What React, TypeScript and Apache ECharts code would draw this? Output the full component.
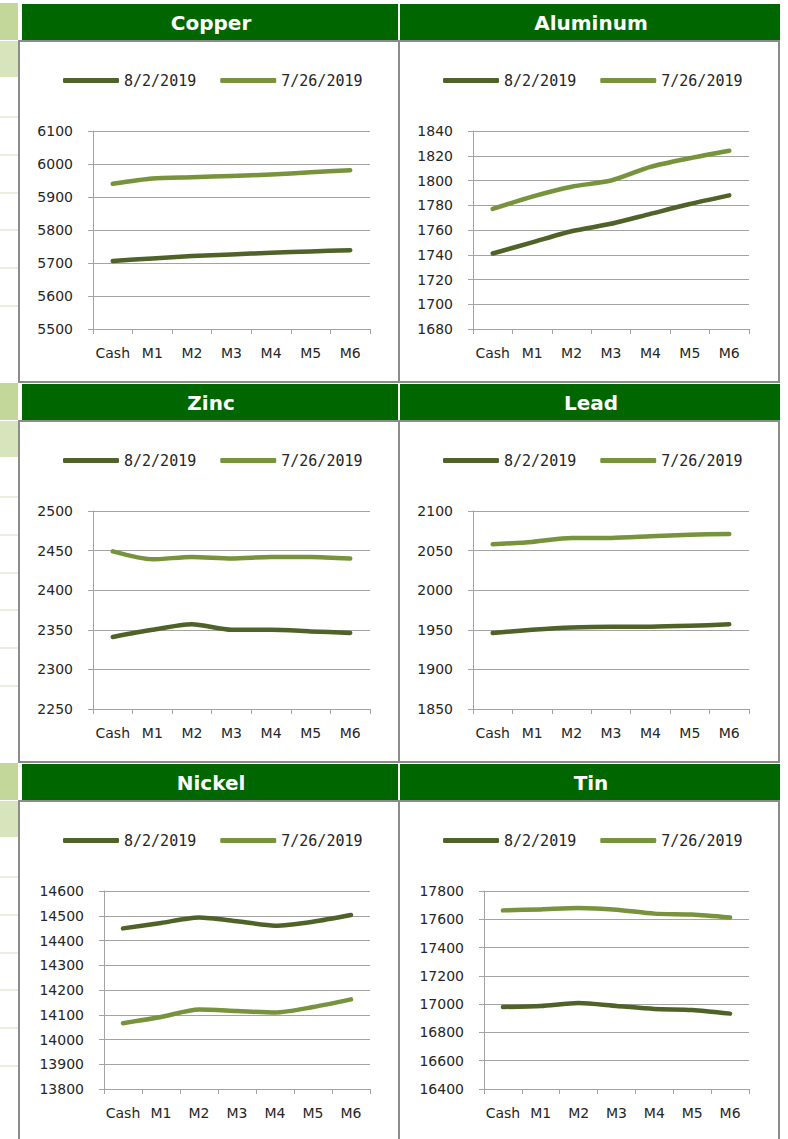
import React, { useEffect, useRef } from "react";
import * as echarts from "echarts";

const categories = ["Cash", "M1", "M2", "M3", "M4", "M5", "M6"];
const seriesNames = ["8/2/2019", "7/26/2019"];
const metals = ["Copper", "Aluminum", "Zinc", "Lead", "Nickel", "Tin"];

const copperAug2 = [5706, 5714, 5721, 5726, 5731, 5735, 5739];
const copperJul26 = [5940, 5956, 5960, 5964, 5968, 5975, 5981];
const aluminumAug2 = [1741, 1750, 1759, 1765, 1773, 1781, 1788];
const aluminumJul26 = [1777, 1787, 1795, 1800, 1811, 1818, 1824];
const zincAug2 = [2341, 2350, 2357, 2350, 2350, 2348, 2346];
const zincJul26 = [2449, 2439, 2442, 2440, 2442, 2442, 2440];
const leadAug2 = [1946, 1950, 1953, 1954, 1954, 1955, 1957];
const leadJul26 = [2058, 2061, 2066, 2066, 2068, 2070, 2071];
const nickelAug2 = [14449, 14471, 14493, 14478, 14460, 14476, 14503];
const nickelJul26 = [14066, 14091, 14121, 14115, 14109, 14131, 14162];
const tinAug2 = [16980, 16987, 17008, 16987, 16966, 16959, 16933];
const tinJul26 = [17663, 17670, 17680, 17668, 17640, 17633, 17612];

const yMins = [5500, 1680, 2250, 1850, 13800, 16400];
const yMaxs = [6100, 1840, 2500, 2100, 14600, 17800];
const yIntervals = [100, 20, 50, 50, 100, 200];

const aug2Data = [copperAug2, aluminumAug2, zincAug2, leadAug2, nickelAug2, tinAug2];
const jul26Data = [copperJul26, aluminumJul26, zincJul26, leadJul26, nickelJul26, tinJul26];

const DARK = "#4F6228";
const LIGHT = "#77933C";
const GRIDC = "#a3a3a3";
const TXT = "#262626";
const HEADER = "#006600";
const BORDER = "#8c8c8c";

const boxLefts = [19, 399];
const boxTops = [41, 421, 801];
const BOX_W = 380;
const BOX_H = 341;

export default function App() {
  const ref = useRef<HTMLDivElement>(null);

  useEffect(() => {
    if (!ref.current) return;
    const chart = echarts.init(ref.current, undefined, { renderer: "svg" });

    const grids: any[] = [];
    const xAxes: any[] = [];
    const yAxes: any[] = [];
    const series: any[] = [];
    const legends: any[] = [];
    const graphics: any[] = [];

    // spreadsheet strip on the left
    boxTops.forEach((bt) => {
      const h = bt - 38;
      graphics.push({ type: "rect", shape: { x: 0, y: h, width: 18, height: 37 }, style: { fill: "#c4d79b" }, z: -5 });
      graphics.push({ type: "rect", shape: { x: 0, y: h + 38, width: 18, height: 36 }, style: { fill: "#d8e4bc" }, z: -5 });
      [113, 151, 189, 226, 264, 302].forEach((o) => {
        graphics.push({ type: "rect", shape: { x: 0, y: h + o, width: 18, height: 2 }, style: { fill: "#e9efdc" }, z: -5 });
      });
    });

    metals.forEach((name, i) => {
      const col = i % 2;
      const row = Math.floor(i / 2);
      const bl = boxLefts[col];
      const bt = boxTops[row];
      const fiveDigit = yMaxs[i] >= 10000;
      const gl = bl + (fiveDigit ? 85 : 74);
      const gr = bl + (col === 0 ? 351 : 350);

      // header
      graphics.push({
        type: "rect",
        shape: { x: col === 0 ? 22 : 400, y: bt - 37, width: col === 0 ? 376 : 380, height: 36 },
        style: { fill: HEADER },
        z: -4,
      });
      graphics.push({
        type: "text",
        x: bl + BOX_W / 2 + 2,
        y: bt - 18,
        style: {
          text: name,
          fill: "#ffffff",
          font: 'bold 20px "DejaVu Sans"',
          textAlign: "center",
          textVerticalAlign: "middle",
        },
        z: -3,
      });
      // box
      graphics.push({
        type: "rect",
        shape: { x: bl, y: bt, width: BOX_W, height: BOX_H },
        style: { fill: "none", stroke: BORDER, lineWidth: 2 },
        z: -4,
      });

      grids.push({ left: gl, top: bt + 90, width: gr - gl, height: 198, containLabel: false });
      xAxes.push({
        type: "category",
        gridIndex: i,
        data: categories,
        boundaryGap: true,
        axisLine: { show: true, lineStyle: { color: GRIDC, width: 1 } },
        axisTick: { show: true, length: 5, lineStyle: { color: GRIDC, width: 1 } },
        axisLabel: { interval: 0, margin: 17, fontSize: 14, fontFamily: '"DejaVu Sans"', color: TXT },
        splitLine: { show: false },
      });
      yAxes.push({
        type: "value",
        gridIndex: i,
        min: yMins[i],
        max: yMaxs[i],
        interval: yIntervals[i],
        axisLine: { show: true, lineStyle: { color: GRIDC, width: 1 } },
        axisTick: { show: true, length: 5, lineStyle: { color: GRIDC, width: 1 } },
        axisLabel: {
          margin: 20,
          fontSize: 14,
          fontFamily: '"DejaVu Sans"',
          color: TXT,
          formatter: (v: number) => String(v),
        },
        splitLine: { show: true, lineStyle: { color: GRIDC, width: 1 } },
      });
      [aug2Data[i], jul26Data[i]].forEach((d, k) => {
        series.push({
          type: "line",
          name: seriesNames[k],
          xAxisIndex: i,
          yAxisIndex: i,
          data: d,
          symbol: "none",
          smooth: 0.25,
          color: k === 0 ? DARK : LIGHT,
          lineStyle: { width: 4.5, color: k === 0 ? DARK : LIGHT, cap: "round", join: "round" },
          z: 3 + (1 - k),
        });
      });
      legends.push({
        left: bl + 44,
        top: bt + 32,
        padding: 0,
        orient: "horizontal",
        data: seriesNames,
        icon: "roundRect",
        itemWidth: 56,
        itemHeight: 5,
        itemGap: 24,
        selectedMode: false,
        textStyle: { fontFamily: '"DejaVu Sans Mono"', fontSize: 15, color: TXT },
      });
    });

    chart.setOption({
      animation: false,
      backgroundColor: "#ffffff",
      grid: grids,
      xAxis: xAxes,
      yAxis: yAxes,
      series,
      legend: legends,
      graphic: graphics,
    });

    return () => {
      chart.dispose();
    };
  }, []);

  return (
    <div
      ref={ref}
      style={{ position: "absolute", left: 0, top: 0, width: 788, height: 1139 }}
    />
  );
}
